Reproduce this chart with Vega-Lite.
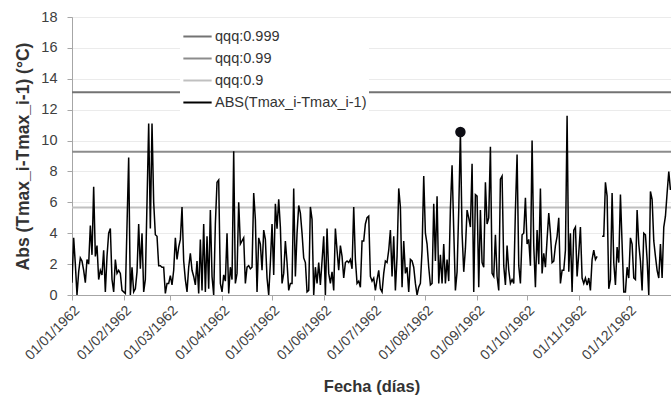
{
  "$schema": "https://vega.github.io/schema/vega-lite/v6.json",
  "width": 599,
  "height": 278,
  "autosize": {"type": "none"},
  "padding": {"left": 72, "top": 17, "right": 0, "bottom": 105},
  "background": "white",
  "config": {
    "font": "Liberation Sans",
    "view": {"stroke": "#bdbdbd", "strokeWidth": 1},
    "axis": {
      "labelFont": "Liberation Sans",
      "titleFont": "Liberation Sans",
      "labelColor": "#404040",
      "titleColor": "#333333",
      "domainColor": "#a6a6a6",
      "tickColor": "#a6a6a6",
      "tickSize": 5,
      "labelOverlap": false
    }
  },
  "datasets": {
    "thr": [
      {"s": "qqq:0.999", "v": 13.13},
      {"s": "qqq:0.99", "v": 9.27},
      {"s": "qqq:0.9", "v": 5.66}
    ],
    "pico": [{"d": "1962-08-22", "v": 10.55}],
    "serie": [
      {"d":"1962-01-01","v":0.8},{"d":"1962-01-02","v":3.7},{"d":"1962-01-03","v":2.0},{"d":"1962-01-04","v":0.0},{"d":"1962-01-05","v":1.5},{"d":"1962-01-06","v":2.4},{"d":"1962-01-07","v":2.2},{"d":"1962-01-08","v":1.6},{"d":"1962-01-09","v":0.8},{"d":"1962-01-10","v":2.3},{"d":"1962-01-11","v":2.0},{"d":"1962-01-12","v":4.5},{"d":"1962-01-13","v":2.6},{"d":"1962-01-14","v":7.0},{"d":"1962-01-15","v":2.5},{"d":"1962-01-16","v":3.2},{"d":"1962-01-17","v":1.0},{"d":"1962-01-18","v":1.6},{"d":"1962-01-19","v":1.3},{"d":"1962-01-20","v":2.9},{"d":"1962-01-21","v":0.2},{"d":"1962-01-22","v":2.5},{"d":"1962-01-23","v":4.0},{"d":"1962-01-24","v":4.3},{"d":"1962-01-25","v":1.0},{"d":"1962-01-26","v":0.2},{"d":"1962-01-27","v":2.3},{"d":"1962-01-28","v":1.4},{"d":"1962-01-29","v":1.6},{"d":"1962-01-30","v":1.4},{"d":"1962-01-31","v":0.3},
      {"d":"1962-02-01","v":0.2},{"d":"1962-02-02","v":0.1},{"d":"1962-02-03","v":4.5},{"d":"1962-02-04","v":8.9},{"d":"1962-02-05","v":0.0},{"d":"1962-02-06","v":1.8},{"d":"1962-02-07","v":0.2},{"d":"1962-02-08","v":0.4},{"d":"1962-02-09","v":1.5},{"d":"1962-02-10","v":4.6},{"d":"1962-02-11","v":1.7},{"d":"1962-02-12","v":4.0},{"d":"1962-02-13","v":0.2},{"d":"1962-02-14","v":1.0},{"d":"1962-02-15","v":6.0},{"d":"1962-02-16","v":11.1},{"d":"1962-02-17","v":4.3},{"d":"1962-02-18","v":11.1},{"d":"1962-02-19","v":6.0},{"d":"1962-02-20","v":3.9},{"d":"1962-02-21","v":3.8},{"d":"1962-02-22","v":1.9},{"d":"1962-02-23","v":1.9},{"d":"1962-02-24","v":1.8},{"d":"1962-02-25","v":1.8},{"d":"1962-02-26","v":0.1},{"d":"1962-02-27","v":0.75},{"d":"1962-02-28","v":0.75},
      {"d":"1962-03-01","v":1.25},{"d":"1962-03-02","v":0.65},{"d":"1962-03-03","v":1.6},{"d":"1962-03-04","v":3.7},{"d":"1962-03-05","v":2.3},{"d":"1962-03-06","v":3.1},{"d":"1962-03-07","v":3.6},{"d":"1962-03-08","v":5.7},{"d":"1962-03-09","v":2.2},{"d":"1962-03-10","v":1.0},{"d":"1962-03-11","v":0.2},{"d":"1962-03-12","v":1.8},{"d":"1962-03-13","v":2.7},{"d":"1962-03-14","v":1.6},{"d":"1962-03-15","v":1.2},{"d":"1962-03-16","v":0.65},{"d":"1962-03-17","v":2.2},{"d":"1962-03-18","v":0.1},{"d":"1962-03-19","v":3.6},{"d":"1962-03-20","v":0.3},{"d":"1962-03-21","v":4.6},{"d":"1962-03-22","v":0.2},{"d":"1962-03-23","v":3.8},{"d":"1962-03-24","v":0.4},{"d":"1962-03-25","v":5.5},{"d":"1962-03-26","v":1.2},{"d":"1962-03-27","v":0.0},{"d":"1962-03-28","v":4.6},{"d":"1962-03-29","v":7.3},{"d":"1962-03-30","v":7.45},{"d":"1962-03-31","v":0.75},
      {"d":"1962-04-01","v":0.2},{"d":"1962-04-02","v":1.3},{"d":"1962-04-03","v":0.9},{"d":"1962-04-04","v":4.0},{"d":"1962-04-05","v":0.1},{"d":"1962-04-06","v":1.8},{"d":"1962-04-07","v":1.0},{"d":"1962-04-08","v":9.3},{"d":"1962-04-09","v":0.75},{"d":"1962-04-10","v":1.4},{"d":"1962-04-11","v":6.0},{"d":"1962-04-12","v":3.3},{"d":"1962-04-13","v":3.5},{"d":"1962-04-14","v":3.7},{"d":"1962-04-15","v":0.75},{"d":"1962-04-16","v":1.8},{"d":"1962-04-17","v":1.9},{"d":"1962-04-18","v":1.7},{"d":"1962-04-19","v":1.8},{"d":"1962-04-20","v":6.6},{"d":"1962-04-21","v":4.9},{"d":"1962-04-22","v":0.2},{"d":"1962-04-23","v":3.7},{"d":"1962-04-24","v":3.3},{"d":"1962-04-25","v":1.6},{"d":"1962-04-26","v":4.2},{"d":"1962-04-27","v":3.6},{"d":"1962-04-28","v":1.1},{"d":"1962-04-29","v":0.0},{"d":"1962-04-30","v":2.1},
      {"d":"1962-05-01","v":4.6},{"d":"1962-05-02","v":1.3},{"d":"1962-05-03","v":5.9},{"d":"1962-05-04","v":4.3},{"d":"1962-05-05","v":6.2},{"d":"1962-05-06","v":4.4},{"d":"1962-05-07","v":0.75},{"d":"1962-05-08","v":1.4},{"d":"1962-05-09","v":3.5},{"d":"1962-05-10","v":2.1},{"d":"1962-05-11","v":0.3},{"d":"1962-05-12","v":0.75},{"d":"1962-05-13","v":0.75},{"d":"1962-05-14","v":6.9},{"d":"1962-05-15","v":1.2},{"d":"1962-05-16","v":4.0},{"d":"1962-05-17","v":5.8},{"d":"1962-05-18","v":5.3},{"d":"1962-05-19","v":4.0},{"d":"1962-05-20","v":2.4},{"d":"1962-05-21","v":2.1},{"d":"1962-05-22","v":0.2},{"d":"1962-05-23","v":0.3},{"d":"1962-05-24","v":5.7},{"d":"1962-05-25","v":4.9},{"d":"1962-05-26","v":0.0},{"d":"1962-05-27","v":1.8},{"d":"1962-05-28","v":0.75},{"d":"1962-05-29","v":2.1},{"d":"1962-05-30","v":0.65},{"d":"1962-05-31","v":2.2},
      {"d":"1962-06-01","v":3.8},{"d":"1962-06-02","v":0.0},{"d":"1962-06-03","v":4.3},{"d":"1962-06-04","v":1.4},{"d":"1962-06-05","v":0.75},{"d":"1962-06-06","v":1.5},{"d":"1962-06-07","v":0.3},{"d":"1962-06-08","v":4.3},{"d":"1962-06-09","v":2.9},{"d":"1962-06-10","v":1.6},{"d":"1962-06-11","v":3.2},{"d":"1962-06-12","v":2.5},{"d":"1962-06-13","v":1.1},{"d":"1962-06-14","v":2.1},{"d":"1962-06-15","v":2.2},{"d":"1962-06-16","v":2.1},{"d":"1962-06-17","v":2.3},{"d":"1962-06-18","v":1.7},{"d":"1962-06-19","v":5.7},{"d":"1962-06-20","v":2.3},{"d":"1962-06-21","v":0.75},{"d":"1962-06-22","v":0.9},{"d":"1962-06-23","v":0.5},{"d":"1962-06-24","v":3.5},{"d":"1962-06-25","v":3.5},{"d":"1962-06-26","v":4.6},{"d":"1962-06-27","v":5.0},{"d":"1962-06-28","v":5.1},{"d":"1962-06-29","v":1.2},{"d":"1962-06-30","v":0.9},
      {"d":"1962-07-01","v":1.1},{"d":"1962-07-02","v":0.3},{"d":"1962-07-03","v":1.0},{"d":"1962-07-04","v":1.6},{"d":"1962-07-05","v":0.4},{"d":"1962-07-06","v":0.2},{"d":"1962-07-07","v":1.4},{"d":"1962-07-08","v":2.2},{"d":"1962-07-09","v":2.1},{"d":"1962-07-10","v":2.9},{"d":"1962-07-11","v":4.2},{"d":"1962-07-12","v":1.2},{"d":"1962-07-13","v":3.8},{"d":"1962-07-14","v":0.3},{"d":"1962-07-15","v":2.5},{"d":"1962-07-16","v":6.9},{"d":"1962-07-17","v":5.7},{"d":"1962-07-18","v":0.5},{"d":"1962-07-19","v":3.5},{"d":"1962-07-20","v":1.4},{"d":"1962-07-21","v":1.8},{"d":"1962-07-22","v":0.2},{"d":"1962-07-23","v":2.3},{"d":"1962-07-24","v":2.2},{"d":"1962-07-25","v":1.8},{"d":"1962-07-26","v":0.75},{"d":"1962-07-27","v":0.0},{"d":"1962-07-28","v":0.5},{"d":"1962-07-29","v":0.75},{"d":"1962-07-30","v":2.9},{"d":"1962-07-31","v":7.7},
      {"d":"1962-08-01","v":4.0},{"d":"1962-08-02","v":3.3},{"d":"1962-08-03","v":1.8},{"d":"1962-08-04","v":0.65},{"d":"1962-08-05","v":0.75},{"d":"1962-08-06","v":5.9},{"d":"1962-08-07","v":2.2},{"d":"1962-08-08","v":6.4},{"d":"1962-08-09","v":0.75},{"d":"1962-08-10","v":2.6},{"d":"1962-08-11","v":0.75},{"d":"1962-08-12","v":3.3},{"d":"1962-08-13","v":0.75},{"d":"1962-08-14","v":2.3},{"d":"1962-08-15","v":0.9},{"d":"1962-08-16","v":5.6},{"d":"1962-08-17","v":8.4},{"d":"1962-08-18","v":4.2},{"d":"1962-08-19","v":0.3},{"d":"1962-08-20","v":1.5},{"d":"1962-08-21","v":5.5},{"d":"1962-08-22","v":10.55},{"d":"1962-08-23","v":4.0},{"d":"1962-08-24","v":1.5},{"d":"1962-08-25","v":3.0},{"d":"1962-08-26","v":5.5},{"d":"1962-08-27","v":5.0},{"d":"1962-08-28","v":4.4},{"d":"1962-08-29","v":8.5},{"d":"1962-08-30","v":0.2},{"d":"1962-08-31","v":6.5},
      {"d":"1962-09-01","v":6.4},{"d":"1962-09-02","v":0.5},{"d":"1962-09-03","v":5.5},{"d":"1962-09-04","v":2.1},{"d":"1962-09-05","v":1.8},{"d":"1962-09-06","v":7.3},{"d":"1962-09-07","v":4.6},{"d":"1962-09-08","v":5.0},{"d":"1962-09-09","v":9.6},{"d":"1962-09-10","v":1.4},{"d":"1962-09-11","v":1.2},{"d":"1962-09-12","v":3.9},{"d":"1962-09-13","v":1.2},{"d":"1962-09-14","v":0.3},{"d":"1962-09-15","v":7.5},{"d":"1962-09-16","v":7.7},{"d":"1962-09-17","v":1.9},{"d":"1962-09-18","v":0.65},{"d":"1962-09-19","v":3.2},{"d":"1962-09-20","v":1.6},{"d":"1962-09-21","v":0.75},{"d":"1962-09-22","v":1.0},{"d":"1962-09-23","v":0.75},{"d":"1962-09-24","v":5.5},{"d":"1962-09-25","v":9.1},{"d":"1962-09-26","v":1.9},{"d":"1962-09-27","v":0.75},{"d":"1962-09-28","v":3.9},{"d":"1962-09-29","v":4.0},{"d":"1962-09-30","v":6.3},
      {"d":"1962-10-01","v":3.3},{"d":"1962-10-02","v":3.6},{"d":"1962-10-03","v":1.9},{"d":"1962-10-04","v":10.0},{"d":"1962-10-05","v":3.2},{"d":"1962-10-06","v":0.5},{"d":"1962-10-07","v":4.2},{"d":"1962-10-08","v":2.0},{"d":"1962-10-09","v":6.9},{"d":"1962-10-10","v":1.4},{"d":"1962-10-11","v":2.7},{"d":"1962-10-12","v":1.8},{"d":"1962-10-13","v":3.6},{"d":"1962-10-14","v":5.3},{"d":"1962-10-15","v":4.0},{"d":"1962-10-16","v":2.1},{"d":"1962-10-17","v":2.2},{"d":"1962-10-18","v":3.2},{"d":"1962-10-19","v":3.8},{"d":"1962-10-20","v":5.0},{"d":"1962-10-21","v":0.75},{"d":"1962-10-22","v":1.6},{"d":"1962-10-23","v":1.6},{"d":"1962-10-24","v":2.9},{"d":"1962-10-25","v":11.6},{"d":"1962-10-26","v":1.5},{"d":"1962-10-27","v":4.0},{"d":"1962-10-28","v":0.2},{"d":"1962-10-29","v":4.2},{"d":"1962-10-30","v":4.4},{"d":"1962-10-31","v":1.2},
      {"d":"1962-11-01","v":2.7},{"d":"1962-11-02","v":4.4},{"d":"1962-11-03","v":1.1},{"d":"1962-11-04","v":0.75},{"d":"1962-11-05","v":1.1},{"d":"1962-11-06","v":0.65},{"d":"1962-11-07","v":1.1},{"d":"1962-11-08","v":0.3},{"d":"1962-11-09","v":2.3},{"d":"1962-11-10","v":2.9},{"d":"1962-11-11","v":2.3},{"d":"1962-11-12","v":2.5},{"d":"1962-11-13","v":null},{"d":"1962-11-14","v":null},{"d":"1962-11-15","v":3.8},{"d":"1962-11-16","v":3.8},{"d":"1962-11-17","v":7.3},{"d":"1962-11-18","v":6.4},{"d":"1962-11-19","v":0.4},{"d":"1962-11-20","v":1.0},{"d":"1962-11-21","v":6.6},{"d":"1962-11-22","v":2.1},{"d":"1962-11-23","v":0.65},{"d":"1962-11-24","v":3.1},{"d":"1962-11-25","v":2.1},{"d":"1962-11-26","v":6.5},{"d":"1962-11-27","v":3.3},{"d":"1962-11-28","v":0.2},{"d":"1962-11-29","v":0.2},{"d":"1962-11-30","v":1.8},
      {"d":"1962-12-01","v":1.1},{"d":"1962-12-02","v":3.7},{"d":"1962-12-03","v":3.3},{"d":"1962-12-04","v":1.1},{"d":"1962-12-05","v":1.0},{"d":"1962-12-06","v":5.5},{"d":"1962-12-07","v":3.3},{"d":"1962-12-08","v":2.2},{"d":"1962-12-09","v":0.3},{"d":"1962-12-10","v":4.0},{"d":"1962-12-11","v":3.9},{"d":"1962-12-12","v":2.3},{"d":"1962-12-13","v":0.0},{"d":"1962-12-14","v":6.7},{"d":"1962-12-15","v":6.2},{"d":"1962-12-16","v":3.5},{"d":"1962-12-17","v":2.5},{"d":"1962-12-18","v":1.6},{"d":"1962-12-19","v":1.1},{"d":"1962-12-20","v":3.3},{"d":"1962-12-21","v":1.1},{"d":"1962-12-22","v":4.4},{"d":"1962-12-23","v":5.1},{"d":"1962-12-24","v":6.6},{"d":"1962-12-25","v":8.0},{"d":"1962-12-26","v":6.8}
    ]
  },
  "encoding": {
    "y": {
      "field": "v", "type": "quantitative",
      "scale": {"domain": [0, 18], "nice": false, "zero": true},
      "axis": {
        "title": "Abs (Tmax_i-Tmax_i-1) (°C)",
        "titleFontSize": 17.5, "titleFontWeight": "bold", "titlePadding": 8,
        "values": [0, 2, 4, 6, 8, 10, 12, 14, 16, 18],
        "labelFontSize": 14.5, "labelPadding": 10, "labelOverlap": false,
        "grid": true, "gridColor": "#ebebeb", "gridWidth": 1
      }
    }
  },
  "layer": [
    {
      "data": {"name": "thr"},
      "mark": {"type": "rule", "strokeWidth": 2},
      "encoding": {
        "color": {
          "field": "s", "type": "nominal",
          "scale": {
            "domain": ["qqq:0.999", "qqq:0.99", "qqq:0.9", "ABS(Tmax_i-Tmax_i-1)"],
            "range": ["#737373", "#8c8c8c", "#c0c0c0", "#000000"]
          },
          "legend": {
            "title": null, "orient": "none", "legendX": 108, "legendY": 2,
            "fillColor": "white", "padding": 2, "zindex": 2,
            "symbolType": "stroke", "symbolSize": 800, "symbolStrokeWidth": 2,
            "labelFont": "Liberation Sans", "labelFontSize": 14.5, "labelColor": "#333333",
            "rowPadding": -4, "labelOffset": 2
          }
        }
      }
    },
    {
      "encoding": {
        "x": {
          "field": "d", "type": "temporal",
          "scale": {
            "type": "utc",
            "domain": [
              {"year": 1962, "month": 1, "date": 1, "utc": true},
              {"year": 1962, "month": 12, "date": 26, "hours": 8, "utc": true}
            ]
          },
          "axis": {
            "title": "Fecha (días)", "titleFontSize": 16.5, "titleFontWeight": "bold",
            "titleY": 83, "titleBaseline": "top",
            "labelExpr": "utcFormat(datum.value, '%d/%m/%Y')",
            "labelAngle": -45, "labelFontSize": 14, "labelOverlap": false,
            "labelPadding": 3, "grid": false,
            "values": [
              {"year": 1962, "month": 1, "date": 1, "utc": true},
              {"year": 1962, "month": 2, "date": 1, "utc": true},
              {"year": 1962, "month": 3, "date": 1, "utc": true},
              {"year": 1962, "month": 4, "date": 1, "utc": true},
              {"year": 1962, "month": 5, "date": 1, "utc": true},
              {"year": 1962, "month": 6, "date": 1, "utc": true},
              {"year": 1962, "month": 7, "date": 1, "utc": true},
              {"year": 1962, "month": 8, "date": 1, "utc": true},
              {"year": 1962, "month": 9, "date": 1, "utc": true},
              {"year": 1962, "month": 10, "date": 1, "utc": true},
              {"year": 1962, "month": 11, "date": 1, "utc": true},
              {"year": 1962, "month": 12, "date": 1, "utc": true}
            ]
          }
        }
      },
      "layer": [
        {
          "data": {"name": "serie"},
          "mark": {"type": "line", "strokeWidth": 1.5, "invalid": "break-paths-filter-domains", "clip": true},
          "encoding": {
            "color": {"datum": "ABS(Tmax_i-Tmax_i-1)"}
          }
        },
        {
          "data": {"name": "pico"},
          "mark": {"type": "circle", "size": 110, "opacity": 1, "color": "#0d0d14"}
        }
      ]
    }
  ]
}
